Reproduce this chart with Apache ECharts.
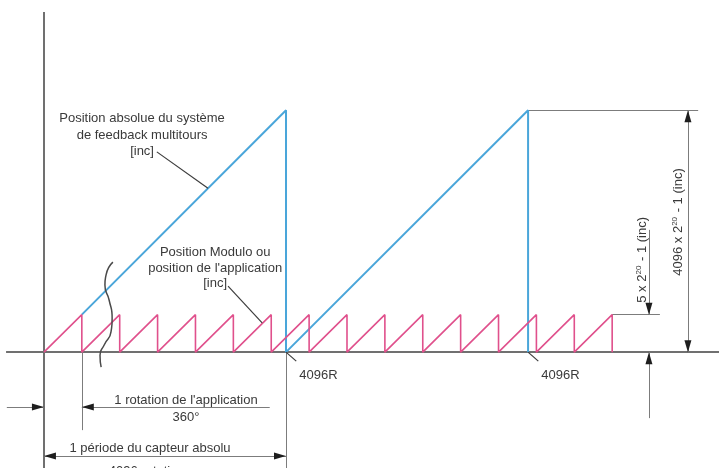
<!DOCTYPE html>
<html>
<head>
<meta charset="utf-8">
<script src="https://cdn.jsdelivr.net/npm/echarts@6/dist/echarts.min.js"></script>
<style>
  html, body { margin: 0; padding: 0; background: #ffffff; }
  #chart { width: 719px; height: 468px; }
</style>
</head>
<body>
<div id="chart"></div>
<script>
// Modulo (application) position: wraps to 0 after every application turn
const moduloWraps = [1, 2, 3, 4, 5, 6, 7, 8, 9, 10, 11, 12, 13, 14, 15];
const moduloMax = 1;
// Absolute multiturn feedback position: wraps after each 4096-turn period
const absoluteWraps = [6.39, 12.78];
const absoluteMax = 6.45;

// Texts
const wrapLabel = '4096R';
const absoluteLabel = ['Position absolue du système', 'de feedback multitours', '[inc]'];
const moduloLabel = ['Position Modulo ou', "position de l'application", '[inc]'];
const turnLabel = ["1 rotation de l'application", '360°'];
const periodLabel = ['1 période du capteur absolu', '4096 rotations'];
const absoluteRange = '{t|4096 x 2}{sup|20}{t| - 1 (inc)}';
const moduloRange = '{t|5 x 2}{sup|20}{t| - 1 (inc)}';

// ---- drawing helpers ----
// ramp from `start`, dropping back to 0 at each wrap
function sawtooth(wraps, peak, start) {
  const pts = [start];
  wraps.forEach(w => { pts.push([w, peak]); pts.push([w, 0]); });
  return pts;
}

const X_MIN = -1.16, X_MAX = 17.82, Y_MIN = -3.09, Y_MAX = 9.39;
const FONT = "'Liberation Sans', Arial, sans-serif";
const TEXT = '#3a3a3a';
const GREY = '#7c7c7c';

// dimension line placement (data units)
const turnDimY = -1.46;
const periodDimY = -2.77;
const bigDimX = 17.0;
const smallDimX = 15.97;
const firstTurn = moduloWraps[0];
const firstPeriod = absoluteWraps[0];
const lastTooth = moduloWraps[moduloWraps.length - 1];
const lastPeriod = absoluteWraps[absoluteWraps.length - 1];

// axis lines
const axisSegments = [
  [[0, 9.07], [0, Y_MIN]],
  [[-1.0, 0], [X_MAX, 0]]
];

// extension and dimension lines
const dimSegments = [
  [[firstTurn, 0], [firstTurn, -2.08]],
  [[firstPeriod, 0], [firstPeriod, Y_MIN]],
  [[lastPeriod, absoluteMax], [17.27, absoluteMax]],
  [[lastTooth, moduloMax], [16.26, moduloMax]],
  [[bigDimX, absoluteMax], [bigDimX, 0]],
  [[smallDimX, 3.26], [smallDimX, moduloMax]],
  [[smallDimX, 0], [smallDimX, -1.76]],
  [[-0.98, turnDimY], [0, turnDimY]],
  [[firstTurn, turnDimY], [5.96, turnDimY]],
  [[0, periodDimY], [firstPeriod, periodDimY]]
];

// leader lines from labels to curves
const leaderSegments = [
  [[2.98, 5.34], [4.33, 4.37]],
  [[4.86, 1.76], [5.76, 0.78]]
].concat(absoluteWraps.map(w => [[w, 0], [w + 0.27, -0.24]]));

// broken-axis wave
const breakWave = [[1.82, 2.40], [1.64, 2.06], [1.61, 1.79], [1.72, 1.39], [1.80, 0.91],
                   [1.77, 0.54], [1.59, 0.19], [1.48, -0.08], [1.51, -0.40]];

// arrow heads: tip position and direction
const arrows = [
  { tip: [0, turnDimY], dir: 'right' },
  { tip: [firstTurn, turnDimY], dir: 'left' },
  { tip: [0, periodDimY], dir: 'left' },
  { tip: [firstPeriod, periodDimY], dir: 'right' },
  { tip: [bigDimX, absoluteMax], dir: 'up' },
  { tip: [bigDimX, 0], dir: 'down' },
  { tip: [smallDimX, moduloMax], dir: 'down' },
  { tip: [smallDimX, 0], dir: 'up' }
];

// text notes
const notes = [
  { at: [2.59, 5.79], text: absoluteLabel.join('\n'), lh: 16.5, align: 'center' },
  { at: [4.52, 2.24], text: moduloLabel.join('\n'), lh: 15.5, align: 'center' },
  { at: [3.75, -1.30], text: turnLabel[0], lh: 15, align: 'center' },
  { at: [3.75, -1.73], text: turnLabel[1], lh: 15, align: 'center' },
  { at: [2.80, -2.58], text: periodLabel[0], lh: 15, align: 'center' },
  { at: [2.80, -3.17], text: periodLabel[1], lh: 15, align: 'center' },
  { at: [16.74, 3.47], text: absoluteRange, lh: 14, align: 'center', rotate: true },
  { at: [15.79, 2.46], text: moduloRange, lh: 14, align: 'center', rotate: true }
].concat(absoluteWraps.map(w => ({ at: [w + 0.35, -0.61], text: wrapLabel, lh: 15, align: 'left' })));

const DIRS = { right: [1, 0], left: [-1, 0], up: [0, -1], down: [0, 1] };

const chart = echarts.init(document.getElementById('chart'), null, { renderer: 'canvas' });

chart.setOption({
  animation: false,
  backgroundColor: '#ffffff',
  grid: { left: 0, right: 0, top: 0, bottom: 0 },
  xAxis: { type: 'value', min: X_MIN, max: X_MAX, show: false },
  yAxis: { type: 'value', min: Y_MIN, max: Y_MAX, show: false },
  series: [
    {
      type: 'lines', coordinateSystem: 'cartesian2d', silent: true, z: 1,
      data: axisSegments.map(c => ({ coords: c })),
      lineStyle: { color: '#707070', width: 2, opacity: 1 }
    },
    {
      type: 'lines', coordinateSystem: 'cartesian2d', silent: true, z: 1,
      data: dimSegments.map(c => ({ coords: c })),
      lineStyle: { color: GREY, width: 1, opacity: 1 }
    },
    {
      name: 'Position absolue', type: 'line', z: 3,
      // the first stretch coincides with the first modulo ramp
      data: sawtooth(absoluteWraps, absoluteMax, [moduloWraps[0], moduloMax]),
      showSymbol: false, silent: true,
      lineStyle: { color: '#4aa6da', width: 2 }
    },
    {
      name: 'Position Modulo', type: 'line', z: 4,
      data: sawtooth(moduloWraps, moduloMax, [0, 0]),
      showSymbol: false, silent: true,
      lineStyle: { color: '#e0508c', width: 1.6 }
    },
    {
      type: 'lines', coordinateSystem: 'cartesian2d', silent: true, z: 5,
      data: leaderSegments.map(c => ({ coords: c })),
      lineStyle: { color: '#3c3c3c', width: 1.2, opacity: 1 }
    },
    {
      type: 'line', z: 5, smooth: 0.6, silent: true, showSymbol: false,
      data: breakWave,
      lineStyle: { color: '#4a4a4a', width: 1.5 }
    },
    {
      type: 'custom', z: 6, silent: true, clip: false,
      data: arrows.map((a, i) => [a.tip[0], a.tip[1], i]),
      encode: { x: 0, y: 1 },
      renderItem: function (params, api) {
        const a = arrows[params.dataIndex];
        const p = api.coord([api.value(0), api.value(1)]);
        const d = DIRS[a.dir];
        const L = 12, W = 3.5;
        const bx = p[0] - d[0] * L, by = p[1] - d[1] * L;
        const nx = -d[1], ny = d[0];
        return {
          type: 'polygon',
          shape: { points: [[p[0], p[1]], [bx + nx * W, by + ny * W], [bx - nx * W, by - ny * W]] },
          style: { fill: '#1e1e1e' }
        };
      }
    },
    {
      type: 'custom', z: 7, silent: true, clip: false,
      data: notes.map((n, i) => [n.at[0], n.at[1], i]),
      encode: { x: 0, y: 1 },
      renderItem: function (params, api) {
        const n = notes[params.dataIndex];
        const p = api.coord([api.value(0), api.value(1)]);
        return {
          type: 'text',
          x: p[0], y: p[1],
          rotation: n.rotate ? Math.PI / 2 : 0,
          style: {
            text: n.text,
            fill: TEXT,
            font: '13px ' + FONT,
            align: n.align,
            verticalAlign: 'middle',
            lineHeight: n.lh,
            rich: {
              t: { fontSize: 13, fontFamily: FONT, fill: TEXT, lineHeight: n.lh, verticalAlign: 'bottom' },
              sup: { fontSize: 8, fontFamily: FONT, fill: TEXT, lineHeight: n.lh, verticalAlign: 'top', padding: [0, 1, 0, 0] }
            }
          }
        };
      }
    }
  ]
});
</script>
</body>
</html>
